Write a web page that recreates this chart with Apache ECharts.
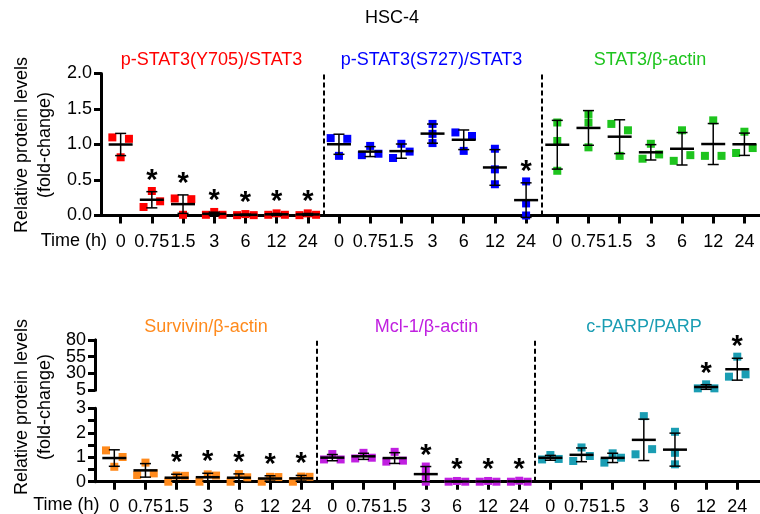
<!DOCTYPE html>
<html>
<head>
<meta charset="utf-8">
<script src="https://cdn.jsdelivr.net/npm/echarts@6/dist/echarts.min.js"></script>
<style>
html,body{margin:0;padding:0;background:#fff;}
#chart{width:760px;height:514px;}
</style>
</head>
<body>
<div id="chart"></div>
<script>
// ---------------- data ----------------
const chartTitle = 'HSC-4';
const timeLabels = ['0', '0.75', '1.5', '3', '6', '12', '24'];
const topTitles = ['p-STAT3(Y705)/STAT3', 'p-STAT3(S727)/STAT3', 'STAT3/β-actin'];
const bottomTitles = ['Survivin/β-actin', 'Mcl-1/β-actin', 'c-PARP/PARP'];
const yName = 'Relative protein levels\n(fold-change)';
const xName = 'Time (h)';
const upperTicksA = [5, 55];
const upperTicksB = [30, 80];

// replicate values (3 per time point)
const pY705 = [[1.10, 0.82, 1.08], [0.12, 0.345, 0.20], [0.24, 0.01, 0.23], [0.01, 0.05, 0.01], [0.005, 0.02, 0.005], [0.01, 0.03, 0.01], [0.01, 0.03, 0.005]];
const pS727 = [[1.09, 0.84, 1.08], [0.85, 0.98, 0.87], [0.81, 1.01, 0.90], [1.29, 1.15, 1.02], [1.17, 0.91, 1.12], [0.94, 0.65, 0.44], [0.48, 0.17, 0.0]];
const stat3 = [[1.31, 1.05, 0.63], [1.43, 1.31, 0.96], [1.29, 0.84, 1.20], [0.80, 1.01, 0.86], [0.77, 1.20, 0.85], [0.84, 1.34, 0.84], [0.88, 1.18, 0.95]];
const survivin = [[1.28, 0.61, 1.01], [0.27, 0.78, 0.34], [0.0, 0.25, 0.24], [0.0, 0.30, 0.25], [0.0, 0.31, 0.18], [0.0, 0.20, 0.19], [0.0, 0.21, 0.20]];
const mcl1 = [[0.91, 1.13, 0.91], [0.95, 1.18, 0.98], [0.82, 1.22, 0.86], [0.62, 0.31, 0.0], [0.0, 0.03, 0.0], [0.0, 0.03, 0.0], [0.0, 0.04, 0.0]];
const cparp = [[0.91, 1.09, 0.93], [0.845, 1.40, 1.05], [1.16, 0.78, 0.98], [1.12, 2.68, 1.33], [2.04, 1.18, 0.71], [7.5, 13.5, 7.5], [25, 55, 28.5]];

// significance marks (*)
const pY705Sig = [0, 1, 1, 1, 1, 1, 1];
const pS727Sig = [0, 0, 0, 0, 0, 0, 1];
const stat3Sig = [0, 0, 0, 0, 0, 0, 0];
const survivinSig = [0, 0, 1, 1, 1, 1, 1];
const mcl1Sig = [0, 0, 0, 1, 1, 1, 1];
const cparpSig = [0, 0, 0, 0, 0, 1, 1];

// ---------------- styles ----------------
const FONT = '"Liberation Sans", Arial, Helvetica, sans-serif';
const topColors = ['#ff0000', '#0000ff', '#1ec41e'];
const bottomColors = ['#ff8a1c', '#c01fe0', '#1a9db3'];
const SLOT = 8.3, HALF = 4, THR = 7;

function stats(v) {
  const m = (v[0] + v[1] + v[2]) / 3;
  const s = Math.sqrt(v.reduce((a, x) => a + (x - m) * (x - m), 0) / 2);
  return [m, s];
}

function jitter(py) {
  const slot = [0, 0, 0];
  const o = [0, 1, 2].sort((a, b) => (py[b] - py[a]) || (a - b));
  const g1 = Math.abs(py[o[0]] - py[o[1]]), g2 = Math.abs(py[o[1]] - py[o[2]]);
  if (g1 < THR && g2 < THR) { slot[o[0]] = -1; slot[o[2]] = 0; slot[o[1]] = 1; }
  else if (g1 < THR) { const p = [o[0], o[1]].sort((a, b) => a - b); slot[p[0]] = -1; slot[p[1]] = 1; }
  else if (g2 < THR) { const p = [o[1], o[2]].sort((a, b) => a - b); slot[p[0]] = -1; slot[p[1]] = 1; }
  return slot;
}

function makeRender(color) {
  return function (params, api) {
    const x = api.value(0), mean = api.value(1), sd = api.value(2);
    const vals = [api.value(3), api.value(4), api.value(5)];
    const sig = api.value(6);
    const cm = api.coord([x, mean]);
    const cx = cm[0], ym = cm[1];
    const yt = api.coord([x, mean + sd])[1], yb = api.coord([x, mean - sd])[1];
    const py = vals.map(v => api.coord([x, v])[1]);
    const slot = jitter(py);
    const ch = [];
    vals.forEach((v, i) => ch.push({
      type: 'rect',
      shape: { x: cx + slot[i] * SLOT - HALF, y: py[i] - HALF, width: HALF * 2, height: HALF * 2 },
      style: { fill: color }
    }));
    const ls = { stroke: '#000', lineWidth: 1.5 };
    ch.push({ type: 'line', shape: { x1: cx, y1: yt, x2: cx, y2: yb }, style: ls });
    ch.push({ type: 'line', shape: { x1: cx - 5.5, y1: yt, x2: cx + 5.5, y2: yt }, style: ls });
    ch.push({ type: 'line', shape: { x1: cx - 5.5, y1: yb, x2: cx + 5.5, y2: yb }, style: ls });
    ch.push({ type: 'line', shape: { x1: cx - 12, y1: ym, x2: cx + 12, y2: ym }, style: { stroke: '#000', lineWidth: 2.5 } });
    if (sig) {
      ch.push({
        type: 'text', x: cx, y: yt - 17 + 6,
        style: { text: '*', font: 'bold 29px ' + FONT, fill: '#000', align: 'center', verticalAlign: 'middle' }
      });
    }
    return { type: 'group', children: ch };
  };
}

function buildData(arr, sig, panel, filterFn) {
  const out = [];
  arr.forEach((v, t) => {
    const st = stats(v);
    if (!filterFn || filterFn(st[0])) out.push([panel * 7 + t, st[0], st[1], v[0], v[1], v[2], sig[t]]);
  });
  return out;
}

const nT = timeLabels.length;
const xIdx = Array.from({ length: nT * 3 }, (_, i) => i);
const dividers = [1, 2].map(k => ({ xAxis: k * nT - 0.5 }));

function xAxisDef(grid, min, max, show, margin) {
  return {
    type: 'value', gridIndex: grid, min: min, max: max, show: show,
    splitLine: { show: false },
    axisLine: { show: true, onZero: false, lineStyle: { color: '#000', width: 3 } },
    axisTick: { show: true, customValues: xIdx, length: 8, lineStyle: { color: '#000', width: 3 } },
    axisLabel: {
      show: true, customValues: xIdx, margin: margin, color: '#000', fontSize: 18, fontFamily: FONT,
      hideOverlap: false, showMinLabel: true, showMaxLabel: true,
      formatter: v => timeLabels[Math.round(v) % nT]
    }
  };
}
function yAxisDef(grid, min, max, interval, fmt, show, custom) {
  const ax = {
    type: 'value', gridIndex: grid, min: min, max: max, interval: interval, show: show,
    position: 'left', offset: 0,
    splitLine: { show: false },
    axisLine: { show: true, onZero: false, lineStyle: { color: '#000', width: 3 } },
    axisTick: { show: true, length: 7, lineStyle: { color: '#000', width: 3 } },
    axisLabel: {
      margin: 9, color: '#000', fontSize: 18, fontFamily: FONT, formatter: fmt,
      hideOverlap: false, showMinLabel: true, showMaxLabel: true
    }
  };
  if (custom) {
    ax.axisTick.customValues = custom;
    ax.axisLabel.customValues = custom;
  }
  return ax;
}

const markLineDef = {
  silent: true, symbol: ['none', 'none'], label: { show: false },
  lineStyle: { color: '#000', width: 2, type: [5, 3] }, emphasis: { disabled: true },
  animation: false, data: dividers
};

const series = [];
[[pY705, pY705Sig], [pS727, pS727Sig], [stat3, stat3Sig]].forEach((d, p) => {
  series.push({
    type: 'custom', xAxisIndex: 0, yAxisIndex: 0, renderItem: makeRender(topColors[p]),
    data: buildData(d[0], d[1], p), clip: false,
    markLine: p === 0 ? markLineDef : undefined
  });
});
[[survivin, survivinSig], [mcl1, mcl1Sig], [cparp, cparpSig]].forEach((d, p) => {
  const lo = buildData(d[0], d[1], p, m => m <= 3);
  const hi = buildData(d[0], d[1], p, m => m > 3);
  series.push({ type: 'custom', xAxisIndex: 1, yAxisIndex: 1, renderItem: makeRender(bottomColors[p]), data: lo, clip: false });
  if (hi.length) series.push({ type: 'custom', xAxisIndex: 2, yAxisIndex: 2, renderItem: makeRender(bottomColors[p]), data: hi, clip: false });
});
series.push({ type: 'line', xAxisIndex: 3, yAxisIndex: 4, data: [], markLine: markLineDef });

const gridBase = { right: 0, containLabel: false, outerBoundsMode: 'none' };
const txt = (text, x, y, color, extra) => Object.assign({
  type: 'text', x: x, y: y, silent: true,
  style: { text: text, fill: color || '#000', font: '18px ' + FONT, align: 'center', verticalAlign: 'middle' }
}, extra || {});

const graphic = [
  txt(chartTitle, 392, 18),
  txt(topTitles[0], 211.5, 60, topColors[0]),
  txt(topTitles[1], 431.5, 60, topColors[1]),
  txt(topTitles[2], 650, 60, topColors[2]),
  txt(bottomTitles[0], 206, 327, bottomColors[0]),
  txt(bottomTitles[1], 426.5, 327, bottomColors[1]),
  txt(bottomTitles[2], 644, 327, bottomColors[2]),
  { type: 'text', x: 107, y: 241, silent: true, style: { text: xName, fill: '#000', font: '18px ' + FONT, align: 'right', verticalAlign: 'middle' } },
  { type: 'text', x: 99.5, y: 505.5, silent: true, style: { text: xName, fill: '#000', font: '18px ' + FONT, align: 'right', verticalAlign: 'middle' } },
  { type: 'text', x: 33.5, y: 145, rotation: Math.PI / 2, silent: true, style: { text: yName, fill: '#000', font: '18px ' + FONT, align: 'center', verticalAlign: 'middle', lineHeight: 23 } },
  { type: 'text', x: 33.5, y: 407, rotation: Math.PI / 2, silent: true, style: { text: yName, fill: '#000', font: '18px ' + FONT, align: 'center', verticalAlign: 'middle', lineHeight: 23 } }
];

const option = {
  animation: false,
  backgroundColor: '#fff',
  grid: [
    Object.assign({ left: 101, top: 73.5, height: 142 }, gridBase),
    Object.assign({ left: 95, top: 408.3, height: 73.4 }, gridBase),
    Object.assign({ left: 95, top: 340, height: 50 }, gridBase),
    Object.assign({ left: 95, top: 340, height: 141.7 }, gridBase)
  ],
  xAxis: [
    xAxisDef(0, -0.63, 20.5, true, 18),
    xAxisDef(1, -0.62, 20.73, true, 16),
    xAxisDef(2, -0.62, 20.73, false, 15),
    xAxisDef(3, -0.62, 20.73, false, 15)
  ],
  yAxis: [
    yAxisDef(0, 0, 2, 0.5, v => v.toFixed(1), true),
    yAxisDef(1, 0, 3, 0.5, v => (Math.abs(v - Math.round(v)) < 1e-9 ? String(Math.round(v)) : ''), true),
    yAxisDef(2, 5, 80, 25, v => String(v), true, upperTicksA),
    yAxisDef(2, 5, 80, 25, v => String(v), true, upperTicksB),
    yAxisDef(3, 0, 1, 0.5, v => '', false)
  ],
  graphic: graphic,
  series: series
};

const chart = echarts.init(document.getElementById('chart'), null, { renderer: 'canvas' });
chart.setOption(option);
</script>
</body>
</html>
